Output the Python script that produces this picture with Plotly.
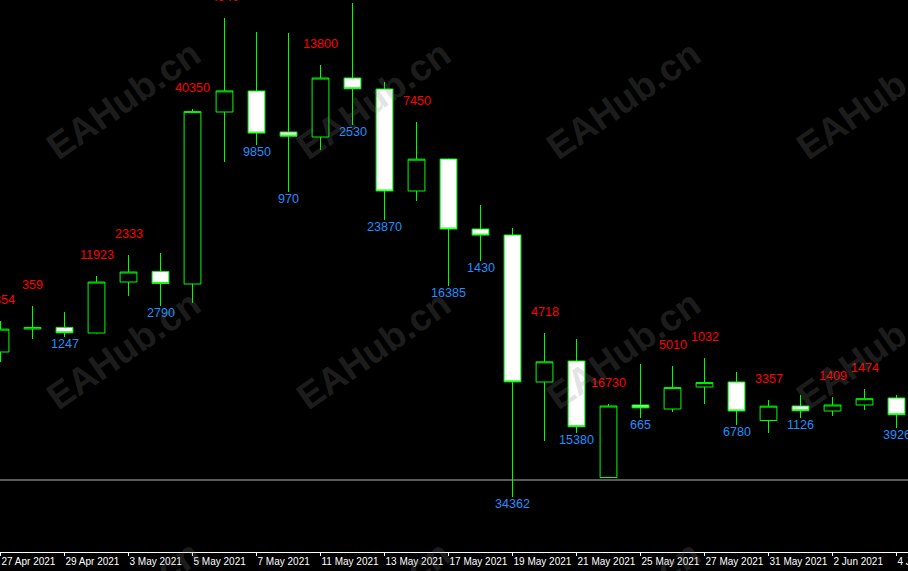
import plotly.graph_objects as go

# ---- data ----
dates = ["27 Apr 2021", "28 Apr 2021", "29 Apr 2021", "30 Apr 2021", "3 May 2021",
         "4 May 2021", "5 May 2021", "6 May 2021", "7 May 2021", "10 May 2021",
         "11 May 2021", "12 May 2021", "13 May 2021", "14 May 2021", "17 May 2021",
         "18 May 2021", "19 May 2021", "20 May 2021", "21 May 2021", "24 May 2021",
         "25 May 2021", "26 May 2021", "27 May 2021", "28 May 2021", "31 May 2021",
         "1 Jun 2021", "2 Jun 2021", "3 Jun 2021", "4 Jun 2021"]

open_ = [1176.32, 1230.14, 1233.70, 1220.78, 1340.12, 1364.69, 1335.44, 1737.92,
         1787.06, 1691.12, 1679.42, 1817.48, 1791.74, 1553.06, 1627.94, 1464.14,
         1450.10, 1106.12, 1155.26, 882.65, 1052.30, 1042.94, 1094.42, 1106.12,
         1016.03, 1049.96, 1038.26, 1052.30, 1068.68]
high = [1248.86, 1283.96, 1269.92, 1354.16, 1403.30, 1407.98, 1744.94, 1957.88,
        1925.12, 1922.78, 1847.90, 1992.98, 1808.12, 1714.52, 1628.94, 1520.30,
        1466.48, 1220.78, 1206.74, 1054.64, 1148.24, 1143.56, 1162.28, 1129.52,
        1064.00, 1075.70, 1071.02, 1089.74, 1075.70]
low = [1152.92, 1206.74, 1211.42, 1219.50, 1307.36, 1283.96, 1290.98, 1620.92,
       1660.70, 1550.72, 1649.00, 1707.50, 1485.20, 1529.66, 1330.76, 1389.26,
       837.02, 968.06, 986.78, 882.00, 1021.88, 1035.92, 1054.64, 1005.50,
       986.78, 1021.88, 1026.56, 1040.60, 998.48]
close = [1229.86, 1233.73, 1221.23, 1340.01, 1363.45, 1336.79, 1738.94, 1787.32,
         1688.56, 1681.42, 1817.42, 1792.18, 1553.04, 1627.56, 1464.09, 1449.84,
         1106.48, 1153.30, 1001.46, 1049.95, 1045.65, 1093.04, 1104.74, 1038.32,
         1049.60, 1038.70, 1052.35, 1067.04, 1029.42]

level_line = 876.80          # horizontal price line
point_size = 0.01            # body size labels are in points
tick_dates = dates[::2]      # every second trading day is labelled
watermark = "EAHub.cn"

# ---- figure ----
fig = go.Figure()

fig.add_trace(go.Candlestick(
    x=dates, open=open_, high=high, low=low, close=close,
    increasing=dict(line=dict(color="#00FF00", width=1), fillcolor="#000000"),
    decreasing=dict(line=dict(color="#00FF00", width=1), fillcolor="#FFFFFF"),
    whiskerwidth=0, showlegend=False, hoverinfo="skip",
))

fig.add_shape(type="line", xref="paper", x0=0, x1=1, yref="y",
              y0=level_line, y1=level_line,
              line=dict(color="#B4B4B4", width=1), layer="below")

annotations = []
for d, o, h, l, c in zip(dates, open_, high, low, close):
    pts = round(abs(c - o) / point_size)
    if c >= o:
        annotations.append(dict(x=d, y=h, xref="x", yref="y", text=str(pts),
                                showarrow=False, xanchor="center", yanchor="middle",
                                yshift=21,
                                font=dict(family="Liberation Sans", size=12.6,
                                          color="#FF0000")))
    else:
        annotations.append(dict(x=d, y=l, xref="x", yref="y", text=str(pts),
                                showarrow=False, xanchor="center", yanchor="middle",
                                yshift=-7,
                                font=dict(family="Liberation Sans", size=12.6,
                                          color="#1E90FF")))

# watermark grid (pixel grid of the page, as paper fractions)
for px in (123, 373, 623, 873):
    for py in (100, 350, 600):
        annotations.append(dict(x=px / 908, y=1 - py / 552, xref="paper", yref="paper",
                                text=watermark, showarrow=False, textangle=-35,
                                xanchor="center", yanchor="middle",
                                font=dict(family="Liberation Sans", size=37,
                                          weight="bold",
                                          color="rgba(128,128,128,0.24)")))

fig.update_layout(
    width=908, height=571,
    margin=dict(l=0, r=0, t=0, b=19, autoexpand=False),
    paper_bgcolor="#000000", plot_bgcolor="#000000",
    boxgap=0.25,
    annotations=annotations,
    xaxis=dict(type="category", range=[-0.015625, 28.359375], automargin=False,
               rangeslider=dict(visible=False),
               tickmode="array", tickvals=tick_dates, ticktext=tick_dates,
               ticklabelposition="outside right", tickangle=0,
               showgrid=False, zeroline=False,
               showline=True, linecolor="#FFFFFF", linewidth=1,
               ticks="outside", ticklen=3, tickcolor="#FFFFFF",
               tickfont=dict(family="Liberation Sans", size=10, color="#FFFFFF")),
    yaxis=dict(range=[708.32, 2000], visible=False, showgrid=False, zeroline=False,
               automargin=False),
    showlegend=False,
)

fig.write_html("out.html",
               config={"displayModeBar": False},
               post_script="document.body.style.margin='0';"
                           "document.body.style.background='#000000';")
